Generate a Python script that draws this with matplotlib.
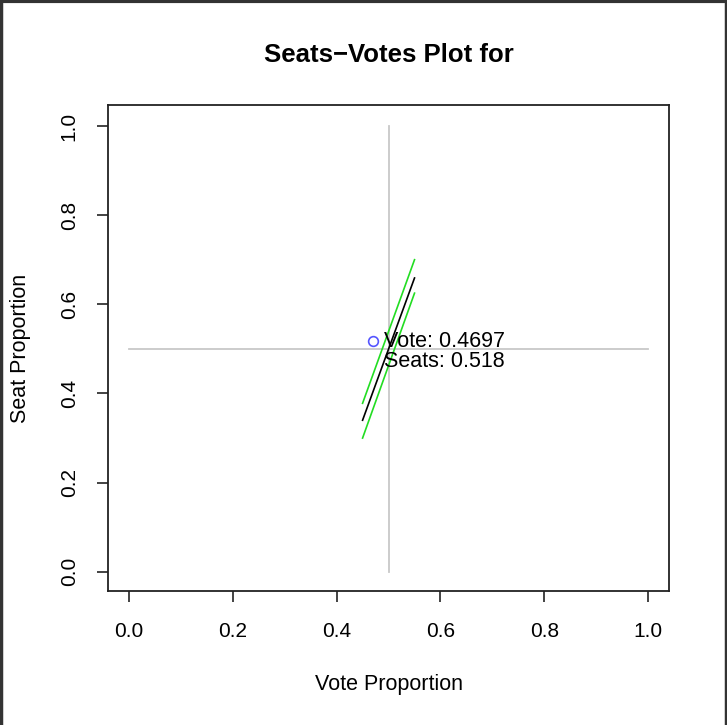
import matplotlib
matplotlib.use("Agg")
import matplotlib.pyplot as plt
from matplotlib.lines import Line2D

plt.rcParams['font.family'] = ['Liberation Sans', 'DejaVu Sans']

# seats-votes curve and its bounds
vote_x = [0.45, 0.55]
seats_mid = [0.34, 0.659]
seats_hi = [0.378, 0.70]
seats_lo = [0.30, 0.625]

# observed point
obs_vote = 0.4697
obs_seats = 0.518

ticks = [0.0, 0.2, 0.4, 0.6, 0.8, 1.0]
tick_labels = ["0.0", "0.2", "0.4", "0.6", "0.8", "1.0"]

fig = plt.figure(figsize=(7.27, 7.25), dpi=100)
ax = fig.add_axes([0.1486, 0.1848, 0.7717, 0.6704])

ax.plot([0.5, 0.5], [0, 1], color="#c8c8c8", lw=1.3)
ax.plot([0, 1], [0.5, 0.5], color="#c8c8c8", lw=1.3)

ax.plot(vote_x, seats_mid, color="black", lw=1.2)
ax.plot(vote_x, seats_hi, color="#22dd22", lw=1.2)
ax.plot(vote_x, seats_lo, color="#22dd22", lw=1.2)

ax.plot([obs_vote], [obs_seats], marker="o", ms=7, mfc="none", mec="#5555ff", mew=1.2)
ax.annotate("Vote: %.4f\nSeats: %.3f" % (obs_vote, obs_seats), (obs_vote, obs_seats),
            xytext=(8, -7.5), textcoords="offset points", ha="left", va="center",
            fontsize=15.5, linespacing=0.95)

ax.set_xlim(-0.04, 1.04)
ax.set_ylim(-0.043, 1.047)
ax.set_xticks(ticks)
ax.set_xticklabels(tick_labels)
ax.set_yticks(ticks)
ax.set_yticklabels(tick_labels, rotation=90, va="center")
ax.tick_params(axis="x", labelsize=15, length=8, width=1.2, pad=14, color="#222222")
ax.tick_params(axis="y", labelsize=15, length=8, width=1.2, pad=13, color="#222222")
for s in ax.spines.values():
    s.set_linewidth(1.3)
    s.set_color("#222222")

ax.set_xlabel("Vote Proportion", fontsize=15.5, labelpad=24)
ax.set_ylabel("Seat Proportion", fontsize=15.5, labelpad=21)
ax.set_title("Seats\u2212Votes Plot for", fontsize=18.5, fontweight="bold", pad=31)

# screenshot frame
fig.add_artist(Line2D([0.001, 0.001], [0, 1], color="#333333", lw=2.5, transform=fig.transFigure))
fig.add_artist(Line2D([0.998, 0.998], [0, 1], color="#333333", lw=2.5, transform=fig.transFigure))
fig.add_artist(Line2D([0, 1], [0.998, 0.998], color="#333333", lw=3, transform=fig.transFigure))

fig.savefig("out.png", dpi=100)
